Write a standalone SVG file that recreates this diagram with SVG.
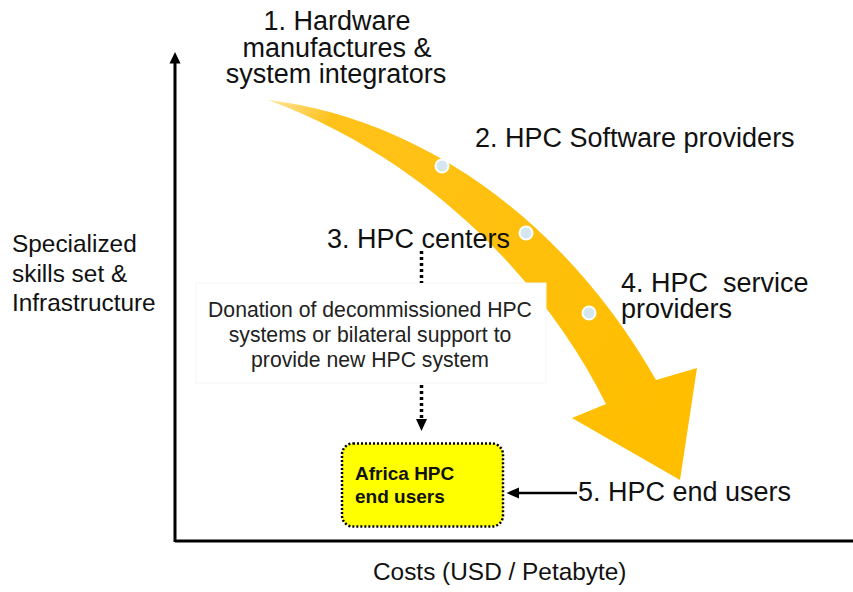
<svg xmlns="http://www.w3.org/2000/svg" width="853" height="592" viewBox="0 0 853 592">
  <defs>
    <style>
      .lbl { font-family: "Liberation Sans", Arial, sans-serif; font-size: 27px; fill: #111; }
      .axis-lbl { font-family: "Liberation Sans", Arial, sans-serif; font-size: 24.4px; fill: #111; }
      .note { font-family: "Liberation Sans", Arial, sans-serif; font-size: 21.2px; fill: #222; }
      .bold { font-family: "Liberation Sans", Arial, sans-serif; font-size: 19px; font-weight: bold; fill: #111; }
      .axis { stroke: #000; stroke-width: 3; fill: none; }
      .dotted { stroke: #000; stroke-width: 3.5; stroke-dasharray: 3 3; fill: none; }
      .dot { fill: #d4e6f0; stroke: #ffffff; stroke-width: 2; }
    </style>
    <linearGradient id="flowFill" x1="268" y1="100" x2="650" y2="420" gradientUnits="userSpaceOnUse">
      <stop offset="0" stop-color="#FFE6A0"/>
      <stop offset="0.12" stop-color="#FFC21A"/>
      <stop offset="1" stop-color="#FFBE00"/>
    </linearGradient>
  </defs>

  <rect width="853" height="592" fill="#ffffff"/>

  <!-- axes -->
  <g id="axes">
    <line class="axis" x1="175" y1="541" x2="853" y2="541"/>
    <line class="axis" x1="175" y1="542" x2="175" y2="62"/>
    <path d="M175,52 L169.5,63.5 L180.5,63.5 z" fill="#000"/>
    <text class="axis-lbl" x="12" y="252">Specialized</text>
    <text class="axis-lbl" x="12" y="281.5">skills set &amp;</text>
    <text class="axis-lbl" x="12" y="311">Infrastructure</text>
    <text class="axis-lbl" x="373" y="579.5">Costs (USD / Petabyte)</text>
  </g>

  <!-- curved value-chain arrow -->
  <g id="flow">
    <path d="M268,100 C420,118 565,220 656,380 L697,368 L680,480 L572,418 L606,404 C545,282 430,160 268,100 Z" fill="url(#flowFill)"/>
    <circle class="dot" cx="442" cy="166" r="6.5"/>
    <circle class="dot" cx="526" cy="233" r="6.5"/>
    <circle class="dot" cx="589" cy="313" r="6.5"/>
  </g>

  <g id="n1">
    <text class="lbl" x="337" y="29.5" text-anchor="middle">1. Hardware</text>
    <text class="lbl" x="337" y="56.5" text-anchor="middle">manufactures &amp;</text>
    <text class="lbl" x="336" y="83" text-anchor="middle">system integrators</text>
  </g>
  <g id="n2">
    <text class="lbl" x="475" y="147">2. HPC Software providers</text>
  </g>
  <g id="n3">
    <text class="lbl" x="327" y="248">3. HPC centers</text>
  </g>
  <g id="n4">
    <text class="lbl" x="621" y="291.5" xml:space="preserve">4. HPC  service</text>
    <text class="lbl" x="621" y="318">providers</text>
  </g>
  <g id="n5">
    <text class="lbl" x="578" y="501">5. HPC end users</text>
  </g>

  <g id="donation">
    <rect x="196" y="283" width="350" height="100" fill="#ffffff" stroke="#f5f5f5" stroke-width="1"/>
    <text class="note" x="370" y="317" text-anchor="middle">Donation of decommissioned HPC</text>
    <text class="note" x="370" y="342" text-anchor="middle">systems or bilateral support to</text>
    <text class="note" x="370" y="367" text-anchor="middle">provide new HPC system</text>
  </g>

  <g id="africa">
    <rect x="342" y="443.5" width="161" height="83" rx="11" ry="11" fill="#FFFF00" stroke="#000" stroke-width="2.5" stroke-dasharray="2 2"/>
    <text class="bold" x="355" y="479.5">Africa HPC</text>
    <text class="bold" x="355" y="503">end users</text>
  </g>

  <!-- connectors -->
  <g id="connectors">
    <line class="dotted" x1="421.5" y1="251" x2="421.5" y2="283"/>
    <line class="dotted" x1="421.5" y1="385" x2="421.5" y2="420"/>
    <path d="M421.5,431 L416,419 L427,419 z" fill="#000"/>
    <line x1="577" y1="493" x2="518" y2="493" stroke="#000" stroke-width="2.5"/>
    <path d="M506.5,493 L519,487.5 L519,498.5 z" fill="#000"/>
  </g>
</svg>
